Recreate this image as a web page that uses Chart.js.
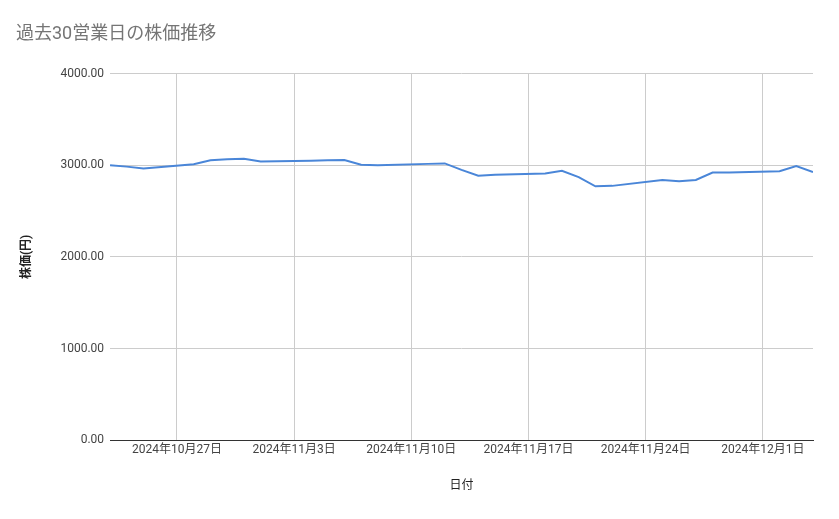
<!DOCTYPE html>
<html><head><meta charset="utf-8">
<script src="https://cdn.jsdelivr.net/npm/chart.js@4"></script>
<style>html,body{margin:0;padding:0;background:#fff}#w{width:839px;height:519px;position:relative}</style>
</head><body><div id="w"><canvas id="c"></canvas></div>
<script>
const dates = ["2024-10-23","2024-10-24","2024-10-25","2024-10-28","2024-10-29","2024-10-30","2024-10-31","2024-11-01",
"2024-11-04","2024-11-05","2024-11-06","2024-11-07","2024-11-08","2024-11-11","2024-11-12","2024-11-13","2024-11-14","2024-11-15",
"2024-11-18","2024-11-19","2024-11-20","2024-11-21","2024-11-22","2024-11-25","2024-11-26","2024-11-27","2024-11-28","2024-11-29",
"2024-12-02","2024-12-03","2024-12-04"];
const prices = [3000,2985,2965,3010,3055,3065,3070,3040,3050,3055,3058,3005,3000,3015,3020,2950,2885,2895,2910,2940,2870,2770,2775,2840,2825,2840,2920,2920,2935,2990,2925];
const yTicks = [0,1000,2000,3000,4000];
const xTickDates = ["2024-10-27","2024-11-03","2024-11-10","2024-11-17","2024-11-24","2024-12-01"];
const FONT = "Roboto, 'Noto Sans CJK JP', sans-serif";
const day = s => Date.UTC(+s.slice(0,4), +s.slice(5,7)-1, +s.slice(8,10))/86400000;
const label = d => { const t = new Date(d*86400000); return t.getUTCFullYear()+"年"+(t.getUTCMonth()+1)+"月"+t.getUTCDate()+"日"; };
new Chart(document.getElementById('c'), {
  type:'line',
  data:{datasets:[{data:dates.map((d,i)=>({x:day(d),y:prices[i]})),borderColor:'#4a86d8',borderWidth:2,pointRadius:0,tension:0}]},
  options:{responsive:true,maintainAspectRatio:false,animation:false,
    layout:{padding:{left:16,right:26,top:10,bottom:22}},
    plugins:{legend:{display:false},tooltip:{enabled:false},
      title:{display:true,text:'過去30営業日の株価推移',align:'start',color:'#757575',font:{family:FONT,size:18,weight:'normal'},padding:{top:14,bottom:28}}},
    scales:{
      x:{type:'linear',min:day(dates[0]),max:day(dates[dates.length-1]),
        afterBuildTicks:a=>{a.ticks=xTickDates.map(s=>({value:day(s)}));},
        ticks:{callback:v=>label(v),color:'#444',font:{family:FONT,size:12},maxRotation:0,autoSkip:false},
        grid:{color:'#ccc',drawTicks:false},border:{color:'#333'},
        title:{display:true,text:'日付',color:'#222',font:{family:FONT,size:12},padding:{top:18}}},
      y:{min:0,max:4000,afterBuildTicks:a=>{a.ticks=yTicks.map(v=>({value:v}));},
        ticks:{callback:v=>v.toFixed(2),color:'#444',font:{family:FONT,size:12},padding:6},
        grid:{color:'#ccc',drawTicks:false},border:{display:false},
        title:{display:true,text:'株価(円)',color:'#222',font:{family:FONT,size:12,weight:'bold'},padding:{bottom:20}}}
    }}
});
</script></body></html>
